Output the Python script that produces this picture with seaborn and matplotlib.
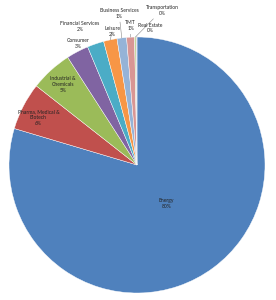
import numpy as np
import matplotlib.pyplot as plt
import seaborn as sns

sns.set_theme(style="white")
plt.rcParams['font.family'] = ['Lato', 'DejaVu Sans']

sectors = ['Energy', 'Pharma, Medical &\nBiotech', 'Industrial &\nChemicals', 'Consumer',
           'Financial Services', 'Leisure', 'Business Services', 'TMT',
           'Transportation', 'Real Estate']
shares = [79.6, 6.0, 5.3, 2.8, 2.1, 1.7, 1.2, 1.0, 0.2, 0.1]
pct_labels = ['80%', '6%', '5%', '3%', '2%', '2%', '1%', '1%', '0%', '0%']

colors = ['#4F81BD', '#C0504D', '#9BBB59', '#8064A2', '#4BACC6',
          '#F79646', '#95B3D7', '#D99694', '#C3D69B', '#B2A2C7']

# label placement (data units, pie radius = 1) and whether a leader line is drawn
label_pos = [(0.23, -0.30), (-0.77, 0.37), (-0.58, 0.63), (-0.46, 0.95),
             (-0.445, 1.08), (-0.195, 1.04), (-0.14, 1.185), (-0.05, 1.09),
             (0.195, 1.21), (0.105, 1.07)]
leader = [False, False, False, False, False, True, True, True, True, True]

fig = plt.figure(figsize=(2.76, 3.0), dpi=100)
ax = fig.add_axes([9 / 276, 7 / 300, 256 / 276, 256 / 300])

wedges, _ = ax.pie(shares, colors=colors, startangle=90, counterclock=False,
                   wedgeprops=dict(edgecolor='white', linewidth=0.3))

for w, name, pct, pos, has_line in zip(wedges, sectors, pct_labels, label_pos, leader):
    mid = np.deg2rad((w.theta1 + w.theta2) / 2)
    edge = (np.cos(mid), np.sin(mid))
    txt = f'{name}\n{pct}'
    if has_line:
        ax.annotate(txt, xy=edge, xytext=pos, ha='center', va='center',
                    fontsize=3.6, color='#222222', annotation_clip=False,
                    arrowprops=dict(arrowstyle='-', color='#888888', lw=0.4,
                                    shrinkA=0, shrinkB=0))
    else:
        ax.text(pos[0], pos[1], txt, ha='center', va='center',
                fontsize=3.6, color='#222222', clip_on=False)

ax.set_xlim(-1, 1)
ax.set_ylim(-1, 1)
ax.set_aspect('equal')
ax.axis('off')

fig.savefig('out.png', dpi=100)
